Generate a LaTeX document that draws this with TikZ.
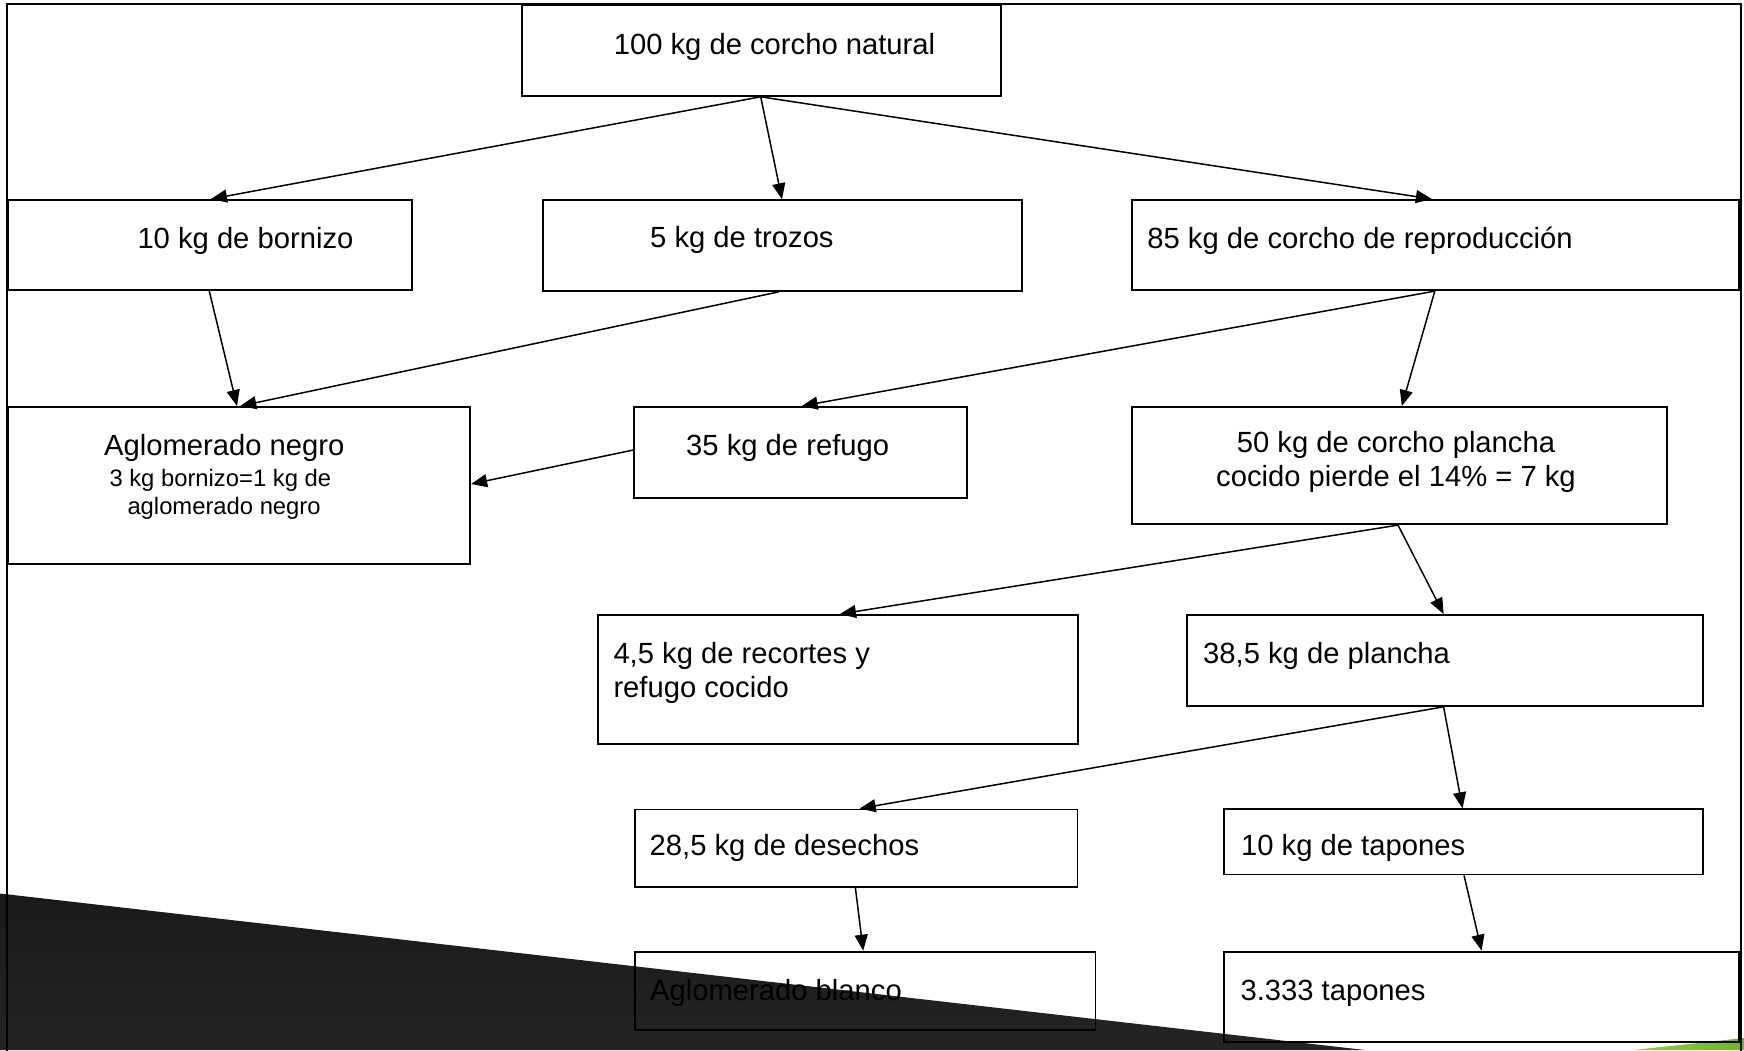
\documentclass[tikz,border=0pt]{standalone}
\usepackage{fontspec}
\setmainfont{Liberation Sans}
\usetikzlibrary{arrows.meta}
\begin{document}
\begin{tikzpicture}[x=1pt,y=-1pt,
  box/.style={draw=black, line width=1.8pt, rectangle, inner sep=0pt, anchor=north west},
  txt/.style={anchor=base west, inner sep=0pt, font=\fontsize{29.2}{35}\selectfont},
  txtc/.style={anchor=base, inner sep=0pt, font=\fontsize{29.2}{35}\selectfont},
  small/.style={anchor=base west, inner sep=0pt, font=\fontsize{23.8}{28}\selectfont},
  arr/.style={draw=black, line width=1.5pt, -{Triangle[length=16pt,width=13pt]}}]
\useasboundingbox (0,0) rectangle (1744,1050);
\clip (0,0) rectangle (1744,1050);
\fill[white] (0,0) rectangle (1744,1050);
% decorative slide shapes
\shade[top color=black!90, middle color=black!77, bottom color=black!86]
  (0,893.5) -- (1365,1050) -- (0,1050) -- cycle;
\shade[left color={rgb,255:red,150;green,205;blue,80}, right color={rgb,255:red,110;green,180;blue,40}]
  (1633,1050) -- (1744,1038) -- (1744,1050) -- cycle;
% outer frame
\draw[line width=1.8pt] (7.3,1060) -- (7.3,4) -- (1741,4) -- (1741,1060);
% boxes
\node[box, minimum width=479.3pt, minimum height=91pt] (b1) at (520.7,4) {};
\node[box, minimum width=403.7pt, minimum height=90.3pt] (b2) at (7.3,199) {};
\node[box, minimum width=479pt, minimum height=90.7pt] (b3) at (542,199.3) {};
\node[box, minimum width=607.2pt, minimum height=90.3pt] (b4) at (1130.8,199) {};
\node[box, minimum width=462pt, minimum height=156.7pt] (b5) at (7.3,406) {};
\node[box, minimum width=332.4pt, minimum height=91.3pt] (b6) at (633.3,406) {};
\node[box, minimum width=535.2pt, minimum height=117.3pt] (b7) at (1130.8,406) {};
\node[box, minimum width=480pt, minimum height=129.3pt] (b8) at (596.7,614) {};
\node[box, minimum width=516.3pt, minimum height=91pt] (b9) at (1186,614) {};
\node[box, minimum width=442.5pt, minimum height=77.5pt] (b10) at (634,808.5) {};
\node[box, minimum width=479.2pt, minimum height=65.2pt] (b11) at (1223.1,808.3) {};
\node[box, minimum width=460.5pt, minimum height=78.6pt] (b12) at (634,950.7) {};
\node[box, minimum width=514.7pt, minimum height=90pt] (b13) at (1223.3,950.7) {};
% texts
\node[txt] (t1) at (613.6,54) {100 kg de corcho natural};
\node[txt] (t2) at (137.3,248.3) {10 kg de bornizo};
\node[txt] (t3) at (650,247.5) {5 kg de trozos};
\node[txt] (t4) at (1147.2,248.3) {85 kg de corcho de reproducción};
\node[txt] (t5) at (104,455) {Aglomerado negro};
\node[small] (t5b) at (109.3,486) {3 kg bornizo=1 kg de};
\node[small] (t5c) at (127.3,514) {aglomerado negro};
\node[txt] (t6) at (686,455) {35 kg de refugo};
\node[txtc] (t7) at (1396,452.7) {50 kg de corcho plancha};
\node[txtc] (t7b) at (1396,486.7) {cocido pierde el 14\% = 7 kg};
\node[txt] (t8) at (613.3,663.3) {4,5 kg de recortes y};
\node[txt] (t8b) at (613.3,697.3) {refugo cocido};
\node[txt] (t9) at (1203,663.3) {38,5 kg de plancha};
\node[txt] (t10) at (649.5,855) {28,5 kg de desechos};
\node[txt] (t11) at (1240.9,855) {10 kg de tapones};
\node[txt] (t12) at (650,1000) {Aglomerado blanco};
\node[txt] (t13) at (1240.3,1000) {3.333 tapones};
% connectors
\draw[arr] ([xshift=240pt]b1.south west) -- ([xshift=203.7pt]b2.north west);
\draw[arr] ([xshift=240pt]b1.south west) -- ([xshift=240pt]b3.north west);
\draw[arr] ([xshift=240pt]b1.south west) -- ([xshift=301pt]b4.north west);
\draw[arr] ([xshift=202pt]b2.south west) -- ([xshift=229.7pt]b5.north west);
\draw[arr] ([xshift=237pt]b3.south west) -- ([xshift=233pt]b5.north west);
\draw[arr] ([xshift=304pt]b4.south west) -- ([xshift=168.4pt]b6.north west);
\draw[arr] ([xshift=304pt]b4.south west) -- ([xshift=271pt]b7.north west);
\draw[arr] ([yshift=-44pt]b6.north west) -- ([yshift=-78pt]b5.north east);
\draw[arr] ([xshift=267.2pt]b7.south west) -- ([xshift=243.3pt]b8.north west);
\draw[arr] ([xshift=267.2pt]b7.south west) -- ([xshift=257.6pt]b9.north west);
\draw[arr] ([xshift=257.6pt]b9.south west) -- ([xshift=225.7pt]b10.north west);
\draw[arr] ([xshift=257.6pt]b9.south west) -- ([xshift=239.4pt]b11.north west);
\draw[arr] ([xshift=221.4pt]b10.south west) -- ([xshift=229.2pt]b12.north west);
\draw[arr] ([xshift=240.9pt]b11.south west) -- ([xshift=258.3pt]b13.north west);
\end{tikzpicture}
\end{document}
